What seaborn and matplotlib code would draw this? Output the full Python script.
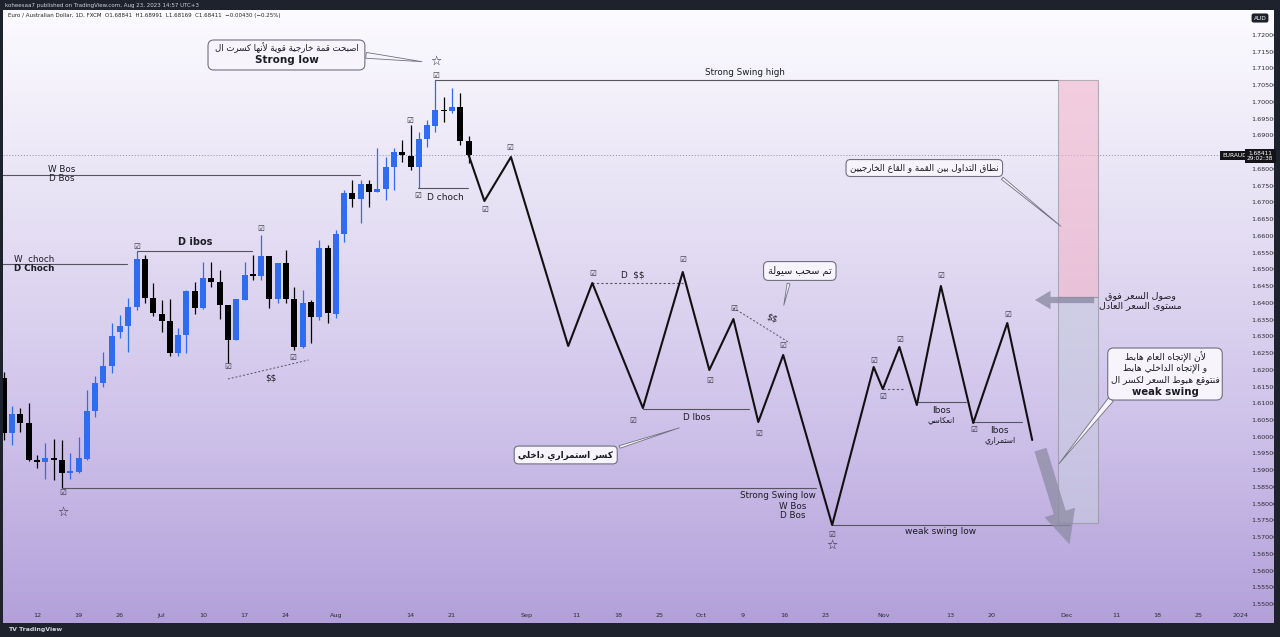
import numpy as np
import pandas as pd
import matplotlib
matplotlib.use('Agg')
import matplotlib.pyplot as plt
import matplotlib.transforms as mtransforms
from matplotlib.colors import LinearSegmentedColormap
from matplotlib.patches import Rectangle, FancyBboxPatch
import seaborn as sns

# ---- data: EUR/AUD daily candles, bar 0 = 2023-06-12 (weekdays only) ----
bar_idx = list(range(-4, 53))
opens = [1.61755, 1.60112, 1.60679, 1.60411, 1.59305, 1.59246, 1.59365, 1.59305, 1.58917, 1.58947,
         1.59335, 1.60769, 1.61605, 1.62113, 1.63129, 1.63308, 1.63875, 1.65309, 1.64144, 1.63666,
         1.63457, 1.62501, 1.63039, 1.64353, 1.63846, 1.64742, 1.64622, 1.63935, 1.62890, 1.64085,
         1.64861, 1.64801, 1.65399, 1.64114, 1.65190, 1.64114, 1.62681, 1.64025, 1.63577, 1.65638,
         1.63666, 1.66056, 1.67281, 1.67101, 1.67549, 1.67311, 1.67400, 1.68057, 1.68505, 1.68386,
         1.68057, 1.68894, 1.69282, 1.69760, 1.69730, 1.69849, 1.68841]
closes = [1.60112, 1.60679, 1.60411, 1.59305, 1.59246, 1.59365, 1.59305, 1.58917, 1.58977, 1.59365,
          1.60769, 1.61605, 1.62113, 1.63009, 1.63308, 1.63875, 1.65309, 1.64144, 1.63696, 1.63457,
          1.62501, 1.63039, 1.64353, 1.63846, 1.64742, 1.64622, 1.63935, 1.62890, 1.64114, 1.64831,
          1.64801, 1.65399, 1.64114, 1.65190, 1.64114, 1.62681, 1.63995, 1.63577, 1.65638, 1.63696,
          1.66056, 1.67281, 1.67101, 1.67549, 1.67311, 1.67400, 1.68057, 1.68505, 1.68416, 1.68057,
          1.68894, 1.69312, 1.69760, 1.69730, 1.69849, 1.68834, 1.68411]
highs = [1.61934, 1.60918, 1.60859, 1.61008, 1.59455, 1.59813, 1.59933, 1.59903, 1.59514, 1.59992,
         1.61396, 1.61814, 1.62531, 1.63398, 1.63636, 1.64144, 1.65548, 1.65429, 1.64592, 1.64085,
         1.64114, 1.63248, 1.64383, 1.64622, 1.65220, 1.65220, 1.64981, 1.63935, 1.64114, 1.65220,
         1.65429, 1.66026, 1.65399, 1.65190, 1.65578, 1.64473, 1.64383, 1.64085, 1.65877, 1.65727,
         1.66175, 1.67370, 1.67669, 1.67669, 1.67669, 1.68625, 1.68356, 1.68625, 1.68864, 1.69312,
         1.69103, 1.69461, 1.70656, 1.70148, 1.70417, 1.70268, 1.68991]
lows = [1.59903, 1.59753, 1.60142, 1.59290, 1.59066, 1.58738, 1.58708, 1.58469, 1.58738, 1.58917,
        1.59305, 1.60590, 1.61486, 1.61904, 1.62950, 1.62531, 1.63786, 1.63995, 1.63607, 1.63129,
        1.62412, 1.62412, 1.62501, 1.63666, 1.63820, 1.64473, 1.63517, 1.62203, 1.62890, 1.64085,
        1.64682, 1.64682, 1.63846, 1.63995, 1.63995, 1.62591, 1.62651, 1.62800, 1.63487, 1.63398,
        1.63547, 1.65817, 1.66862, 1.66385, 1.66862, 1.67311, 1.67072, 1.67370, 1.68207, 1.67968,
        1.67430, 1.68655, 1.69103, 1.69401, 1.69670, 1.68714, 1.68169]

# projected swing path (bar offset, price)
path_bar = [52.0, 53.9, 57.1, 64.0, 66.9, 73.0, 77.8, 81.0, 83.9, 86.9, 89.9, 95.8,
            100.8, 101.9, 103.9, 106.0, 108.9, 112.8, 116.9, 119.9]
path_price = [1.68416, 1.67042, 1.68356, 1.62710, 1.64592, 1.60858, 1.64921, 1.61994, 1.63517,
              1.60440, 1.62442, 1.57364, 1.62083, 1.61426, 1.62681, 1.60948, 1.64503, 1.60410,
              1.63397, 1.59903]

tick_dates = ['2023-06-12', '2023-06-19', '2023-06-26', '2023-07-03', '2023-07-10', '2023-07-17',
              '2023-07-24', '2023-08-01', '2023-08-14', '2023-08-21', '2023-09-01', '2023-09-11',
              '2023-09-18', '2023-09-25', '2023-10-02', '2023-10-09', '2023-10-16', '2023-10-23',
              '2023-11-01', '2023-11-13', '2023-11-20', '2023-12-01', '2023-12-11', '2023-12-18',
              '2023-12-25', '2024-01-01']
tick_labels = ['12', '19', '26', 'Jul', '10', '17', '24', 'Aug', '14', '21', 'Sep', '11', '18', '25',
               'Oct', '9', '16', '23', 'Nov', '13', '20', 'Dec', '11', '18', '25', '2024']
price_ticks = np.arange(1.55, 1.72001, 0.005)
last_price = 1.68411

# horizontal structure levels: (start bar, end bar, price, style)
levels = [(48.0, 123.0, 1.70656, '-'), (-5, 38.9, 1.67818, '-'), (12.0, 25.9, 1.65548, '-'),
          (-5, 10.8, 1.65160, '-'), (45.9, 51.9, 1.67430, '-'), (3.1, 93.9, 1.58469, '-'),
          (95.8, 124.5, 1.57364, '-'), (66.9, 77.8, 1.64592, ':'), (73.0, 85.8, 1.60829, '-'),
          (106.0, 111.9, 1.61038, '-'), (112.8, 118.7, 1.60440, '-'), (101.9, 104.5, 1.61426, ':')]
liq_lines = [((23.0, 32.7), (1.61725, 1.62292)), ((83.9, 90.7), (1.63846, 1.62800))]

check_bar = [3.1, 12.0, 23.0, 30.8, 27.0, 44.9, 48.0, 45.9, 53.9, 56.9, 66.9, 77.8, 71.8, 81.0,
             83.9, 86.9, 89.9, 95.8, 100.8, 101.9, 103.9, 108.9, 112.8, 116.9]
check_price = [1.58320, 1.65698, 1.62113, 1.62382, 1.66235, 1.69461, 1.70805, 1.67221, 1.66803,
               1.68655, 1.64891, 1.65309, 1.60500, 1.61695, 1.63846, 1.60112, 1.62740, 1.57095,
               1.62292, 1.61217, 1.62920, 1.64831, 1.60231, 1.63666]
star_bar = [3.1, 48.0, 95.8]
star_price = [1.57752, 1.71223, 1.56766]

# ---- minimal Arabic shaping (presentation forms, visual order) ----
AR = {'ء': (0xFE80, 0), 'آ': (0xFE81, 1), 'أ': (0xFE83, 1), 'ؤ': (0xFE85, 1), 'إ': (0xFE87, 1),
      'ئ': (0xFE89, 2), 'ا': (0xFE8D, 1), 'ب': (0xFE8F, 2), 'ة': (0xFE93, 1), 'ت': (0xFE95, 2),
      'ث': (0xFE99, 2), 'ج': (0xFE9D, 2), 'ح': (0xFEA1, 2), 'خ': (0xFEA5, 2), 'د': (0xFEA9, 1),
      'ذ': (0xFEAB, 1), 'ر': (0xFEAD, 1), 'ز': (0xFEAF, 1), 'س': (0xFEB1, 2), 'ش': (0xFEB5, 2),
      'ص': (0xFEB9, 2), 'ض': (0xFEBD, 2), 'ط': (0xFEC1, 2), 'ظ': (0xFEC5, 2), 'ع': (0xFEC9, 2),
      'غ': (0xFECD, 2), 'ف': (0xFED1, 2), 'ق': (0xFED5, 2), 'ك': (0xFED9, 2), 'ل': (0xFEDD, 2),
      'م': (0xFEE1, 2), 'ن': (0xFEE5, 2), 'ه': (0xFEE9, 2), 'و': (0xFEED, 1), 'ى': (0xFEEF, 1),
      'ي': (0xFEF1, 2)}
LAM_ALEF = {'آ': 0xFEF5, 'أ': 0xFEF7, 'إ': 0xFEF9, 'ا': 0xFEFB}


def ar(s):
    units = []
    i = 0
    while i < len(s):
        c = s[i]
        if c == 'ل' and i + 1 < len(s) and s[i + 1] in LAM_ALEF:
            units.append((LAM_ALEF[s[i + 1]], 1))
            i += 2
            continue
        units.append(AR.get(c, (c, -1)))
        i += 1
    out = []
    for k, (b, kind) in enumerate(units):
        if kind < 0:
            out.append(b)
            continue
        if kind == 0:
            out.append(chr(b))
            continue
        prev_j = k > 0 and units[k - 1][1] == 2
        next_j = kind == 2 and k + 1 < len(units) and units[k + 1][1] >= 1
        off = 3 if (prev_j and next_j) else 1 if prev_j else 2 if next_j else 0
        out.append(chr(b + off))
    return ''.join(reversed(out))


# ---- figure ----
sns.set_theme(style='white')
plt.rcParams['font.family'] = ['DejaVu Sans']
plt.rcParams['text.parse_math'] = False

W, H = 1280, 637
fig = plt.figure(figsize=(W / 100, H / 100), dpi=100, facecolor='#1e222d')

bg = fig.add_axes([3 / W, (H - 623) / H, 1271 / W, 613 / H])
cmap = LinearSegmentedColormap.from_list('tv', ['#fcfbff', '#e6e0f4', '#cfc3ea', '#b3a0da'])
bg.imshow(np.linspace(0, 1, 256).reshape(-1, 1), aspect='auto', cmap=cmap, extent=[0, 1, 0, 1])
bg.set_axis_off()

ax = fig.add_axes([3 / W, (H - 605) / H, 1243 / W, 595 / H])
ax.set_facecolor('none')
ax.set_xlim(-4.1, 145.66)
ax.set_ylim(1.54974, 1.72747)
for s in ax.spines.values():
    s.set_visible(False)

# candles
df = pd.DataFrame({'bar': bar_idx, 'open': opens, 'high': highs, 'low': lows, 'close': closes})
df['color'] = np.where(df['close'] >= df['open'], '#2f6cf0', '#000000')
ax.vlines(df['bar'], df['low'], df['high'], colors=df['color'], lw=0.9, zorder=3)
body = (df['close'] - df['open']).abs().clip(lower=0.00025)
ax.bar(df['bar'], body, bottom=df[['open', 'close']].min(axis=1), width=0.72,
       color=df['color'], zorder=4, linewidth=0)

# last price dotted line
ax.axhline(last_price, color='#8f8fa0', lw=0.7, ls=(0, (1, 2)), zorder=1)

# projected swings
sns.lineplot(x=path_bar, y=path_price, sort=False, color='#111111', lw=1.5, ax=ax, zorder=5)

# levels
for x0, x1, p, ls in levels:
    ax.plot([x0, x1], [p, p], color='#55555f', lw=0.8, ls=ls if ls == '-' else (0, (2, 2)), zorder=2)
for xs, ps in liq_lines:
    ax.plot(xs, ps, color='#55555f', lw=0.7, ls=(0, (2, 2)), zorder=2)

# zones at the right
ax.add_patch(Rectangle((123.0, 1.64174), 4.8, 1.70656 - 1.64174, fc='#f2b6cc', alpha=0.6,
                       ec='#8a8a95', lw=0.8, zorder=2))
ax.add_patch(Rectangle((123.0, 1.57424), 4.8, 1.64174 - 1.57424, fc='#c8cae0', alpha=0.6,
                       ec='#8a8a95', lw=0.8, zorder=2))

# markers
for x, y in zip(check_bar, check_price):
    ax.text(x, y, '☑', fontsize=5.5, ha='center', va='center', color='#333340', zorder=6)
for x, y in zip(star_bar, star_price):
    ax.text(x, y, '☆', fontsize=9, ha='center', va='center', color='#222230', zorder=6)

# labels on levels
tc = '#1c1c24'
ax.text(85.3, 1.70895, 'Strong Swing high', fontsize=6.3, ha='center', va='center', color=tc)
ax.text(3.0, 1.67997, 'W Bos', fontsize=6.3, ha='center', va='center', color=tc)
ax.text(3.0, 1.67699, 'D Bos', fontsize=6.3, ha='center', va='center', color=tc)
ax.text(19.0, 1.65817, 'D ibos', fontsize=7, ha='center', va='center', color=tc, weight='bold')
ax.text(-0.4, 1.65309, 'W  choch', fontsize=6.3, ha='center', va='center', color=tc)
ax.text(-0.4, 1.65040, 'D Choch', fontsize=6.3, ha='center', va='center', color=tc, weight='bold')
ax.text(49.2, 1.67161, 'D choch', fontsize=6.5, ha='center', va='center', color=tc)
ax.text(89.2, 1.58230, 'Strong Swing low', fontsize=6.3, ha='center', va='center', color=tc)
ax.text(91.0, 1.57931, 'W Bos', fontsize=6.3, ha='center', va='center', color=tc)
ax.text(91.0, 1.57633, 'D Bos', fontsize=6.3, ha='center', va='center', color=tc)
ax.text(108.8, 1.57155, 'weak swing low', fontsize=6.5, ha='center', va='center', color=tc)
ax.text(71.8, 1.64831, 'D  $$', fontsize=6.3, ha='center', va='center', color=tc)
ax.text(79.5, 1.60560, 'D Ibos', fontsize=6.3, ha='center', va='center', color=tc)
ax.text(28.2, 1.61755, '$$', fontsize=6.3, ha='center', va='center', color=tc)
ax.text(88.5, 1.63547, '$$', fontsize=6.3, ha='center', va='center', color=tc, rotation=-20)
ax.text(108.9, 1.60769, 'Ibos', fontsize=6.5, ha='center', va='center', color=tc)
ax.text(108.9, 1.60500, ar('انعكاسي'), fontsize=5.5, ha='center', va='center', color=tc)
ax.text(115.9, 1.60172, 'Ibos', fontsize=6.5, ha='center', va='center', color=tc)
ax.text(116.0, 1.59903, ar('استمراري'), fontsize=5.5, ha='center', va='center', color=tc)

# callouts
box_fc, box_ec = '#f7f5fb', '#707080'
box = dict(boxstyle='round,pad=0.45,rounding_size=0.5', fc=box_fc, ec=box_ec, lw=0.8)
wedge = dict(arrowstyle='wedge,tail_width=0.3,shrink_factor=0.5', fc=box_fc, ec=box_ec, lw=0.6)
wedge_wide = dict(wedge, arrowstyle='wedge,tail_width=0.35,shrink_factor=0.5')
aspect = (1.72747 - 1.54974) / 595 / ((145.66 + 4.1) / 1243)


def panel(x0, x1, y0, y1):
    ax.add_patch(FancyBboxPatch((x0, y0), x1 - x0, y1 - y0, boxstyle='round,pad=0,rounding_size=0.7',
                                mutation_aspect=aspect, fc=box_fc, ec=box_ec, lw=0.8, zorder=7))


# box 1 (top)
ax.annotate('', xy=(46.7, 1.71194), xytext=(39.3, 1.71403), arrowprops=wedge_wide, zorder=6)
panel(20.6, 39.5, 1.70955, 1.71851)
ax.text(30.1, 1.71612, ar('اصبحت قمة خارجية قوية لأنها كسرت ال'), fontsize=6.2, ha='center',
        va='center', color=tc, zorder=8)
ax.text(30.1, 1.71254, 'Strong low', fontsize=7.5, ha='center', va='center', color=tc,
        weight='bold', zorder=8)

ax.annotate(ar('نطاق التداول بين القمة و القاع الخارجيين'), xy=(123.6, 1.66235),
            xytext=(106.9, 1.68027), ha='center', va='center', fontsize=6.35, color=tc,
            bbox=box, arrowprops=dict(wedge, relpos=(0.97, 0.1)), zorder=7)

ax.annotate(ar('تم سحب سيولة'), xy=(89.9, 1.63846), xytext=(91.9, 1.64951),
            ha='center', va='center', fontsize=7, color=tc,
            bbox=box, arrowprops=dict(wedge, relpos=(0.35, 0.0)), zorder=7)

ax.annotate(ar('كسر استمراري داخلي'), xy=(77.7, 1.60291), xytext=(63.7, 1.59455),
            ha='center', va='center', fontsize=6.4, color=tc, weight='bold',
            bbox=box, arrowprops=dict(wedge, relpos=(0.9, 0.8)), zorder=7)

# box 5 (right)
ax.annotate('', xy=(122.9, 1.59126), xytext=(129.6, 1.61180), arrowprops=wedge_wide, zorder=6)
panel(129.0, 142.8, 1.61097, 1.62650)
big_lines = ['لأن الإتجاه العام هابط', 'و الإتجاه الداخلي هابط', 'فنتوقع هبوط السعر لكسر ال']
for txt, p in zip(big_lines, [1.62382, 1.62049, 1.61695]):
    ax.text(135.9, p, ar(txt), fontsize=6.6, ha='center', va='center', color=tc, zorder=8)
ax.text(135.9, 1.61336, 'weak swing', fontsize=7.3, ha='center', va='center', color=tc,
        weight='bold', zorder=8)

ax.text(132.9, 1.64204, ar('وصول السعر فوق'), fontsize=6.8, ha='center', va='center', color=tc)
ax.text(132.9, 1.63905, ar('مستوى السعر العادل'), fontsize=6.8, ha='center', va='center', color=tc)

# big grey arrows
ax.annotate('', xy=(119.9, 1.64084), xytext=(127.7, 1.64084),
            arrowprops=dict(arrowstyle='simple,head_length=0.8,head_width=0.95,tail_width=0.32',
                            fc='#8d8ba3', ec='none', alpha=0.8, mutation_scale=14), zorder=6)
ax.annotate('', xy=(124.5, 1.56706), xytext=(120.8, 1.59693),
            arrowprops=dict(arrowstyle='simple,head_length=1.2,head_width=1.15,tail_width=0.45',
                            fc='#8d8ba3', ec='none', alpha=0.75, mutation_scale=20), zorder=6)

# axes ticks
xt = np.busday_count('2023-06-12', tick_dates)
ax.set_xticks(xt)
ax.set_xticklabels(tick_labels)
ax.set_yticks(price_ticks)
ax.set_yticklabels(['' if abs(v - 1.685) < 1e-6 else f'{v:.5f}' for v in price_ticks])
ax.yaxis.tick_right()
ax.tick_params(axis='both', length=0, labelsize=4.6, colors='#2a2a35')
ax.tick_params(axis='x', pad=6)
ax.tick_params(axis='y', pad=4)

# price tags
trans = mtransforms.blended_transform_factory(ax.transAxes, ax.transData)
ax.text(0.9905, last_price, 'EURAUD', transform=trans, fontsize=4.2, color='white',
        ha='center', va='center', zorder=9, clip_on=False,
        bbox=dict(boxstyle='square,pad=0.35', fc='#131318', ec='none'))
ax.text(1.0115, last_price - 0.0003, '1.68411\n29:02:38', transform=trans, fontsize=4.2,
        color='white', ha='center', va='center', zorder=9, clip_on=False, linespacing=1.1,
        bbox=dict(boxstyle='square,pad=0.35', fc='#131318', ec='none'))

# header / footer
fig.text(5 / W, 1 - 5 / H, 'koheesaa7 published on TradingView.com, Aug 23, 2023 14:57 UTC+3',
         fontsize=4, color='#d0d3dc', va='center', ha='left')
fig.text(8 / W, 1 - 16 / H, 'Euro / Australian Dollar, 1D, FXCM  O1.68841  H1.68991  L1.68169  '
         'C1.68411  \u22120.00430 (\u22120.25%)', fontsize=4, color='#222', va='center', ha='left')
fig.text(1260 / W, 1 - 18 / H, 'AUD', fontsize=4.2, color='white', va='center', ha='center',
         bbox=dict(boxstyle='round,pad=0.35', fc='#1e222d', ec='none'))
fig.text(8 / W, 1 - 630 / H, 'TV TradingView', fontsize=4.5, color='#d0d3dc', va='center',
         ha='left', weight='bold')

fig.savefig('out.png', dpi=100, facecolor=fig.get_facecolor())
